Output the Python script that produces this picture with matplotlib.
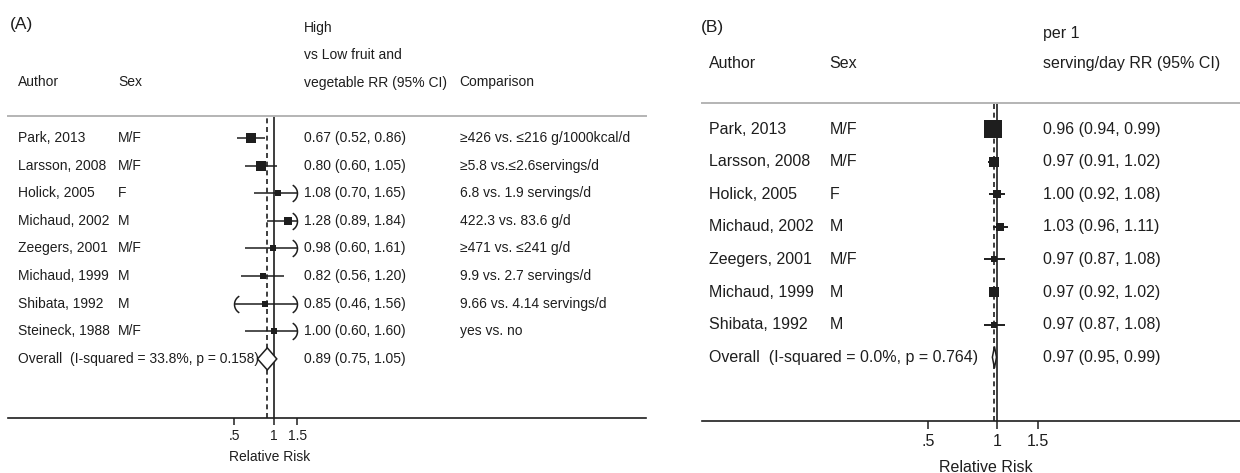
import numpy as np
import matplotlib
matplotlib.use("Agg")
import matplotlib.pyplot as plt
import matplotlib.transforms as mtrans
from matplotlib.path import Path
from matplotlib.ticker import NullLocator

plt.rcParams['font.family'] = ['Liberation Sans', 'DejaVu Sans']

# ---------------- data: panel A (high vs low) ----------------
authors_a = ["Park, 2013", "Larsson, 2008", "Holick, 2005", "Michaud, 2002",
             "Zeegers, 2001", "Michaud, 1999", "Shibata, 1992", "Steineck, 1988"]
sex_a = ["M/F", "M/F", "F", "M", "M/F", "M", "M", "M/F"]
rr_a = [0.67, 0.80, 1.08, 1.28, 0.98, 0.82, 0.85, 1.00]
lo_a = [0.52, 0.60, 0.70, 0.89, 0.60, 0.56, 0.46, 0.60]
hi_a = [0.86, 1.05, 1.65, 1.84, 1.61, 1.20, 1.56, 1.60]
weight_a = [21.5, 19.5, 9.5, 17.0, 7.0, 11.0, 6.0, 8.5]
comparison_a = ["\u2265426 vs. \u2264216 g/1000kcal/d",
                "\u22655.8 vs.\u22642.6servings/d",
                "6.8 vs. 1.9 servings/d",
                "422.3 vs. 83.6 g/d",
                "\u2265471 vs. \u2264241 g/d",
                "9.9 vs. 2.7 servings/d",
                "9.66 vs. 4.14 servings/d",
                "yes vs. no"]
overall_a = [0.89, 0.75, 1.05]
overall_label_a = "Overall  (I-squared = 33.8%, p = 0.158)"
header_rr_a = ["High", "vs Low fruit and", "vegetable RR (95% CI)"]

# ---------------- data: panel B (per 1 serving/day) ----------------
authors_b = ["Park, 2013", "Larsson, 2008", "Holick, 2005", "Michaud, 2002",
             "Zeegers, 2001", "Michaud, 1999", "Shibata, 1992"]
sex_b = ["M/F", "M/F", "F", "M", "M/F", "M", "M"]
rr_b = [0.96, 0.97, 1.00, 1.03, 0.97, 0.97, 0.97]
lo_b = [0.94, 0.91, 0.92, 0.96, 0.87, 0.92, 0.87]
hi_b = [0.99, 1.02, 1.08, 1.11, 1.08, 1.02, 1.08]
weight_b = [44.0, 14.9, 8.0, 8.0, 4.9, 16.4, 3.8]
overall_b = [0.97, 0.95, 0.99]
overall_label_b = "Overall  (I-squared = 0.0%, p = 0.764)"
header_rr_b = ["per 1", "serving/day RR (95% CI)"]

tick_values = [0.5, 1, 1.5]
tick_labels = [".5", "1", "1.5"]
axis_title = "Relative Risk"

INK = "#1e1e1e"
GRID = "#b4b4b4"

theta = np.linspace(-np.pi / 3, np.pi / 3, 17)
RIGHT_BR = Path(np.column_stack([np.cos(theta) - 1, np.sin(theta)]))
LEFT_BR = Path(np.column_stack([1 - np.cos(theta), np.sin(theta)]))

fig = plt.figure(figsize=(12.4, 4.73), dpi=100)


def forest(ax, rr, lo, hi, w, overall, k_px, dia_h, ci_lw, clip=None):
    n = len(rr)
    rows = np.arange(n)
    for i in rows:
        l, h = lo[i], hi[i]
        lc, hc = l, h
        if clip is not None:
            lc, hc = max(l, clip[0]), min(h, clip[1])
        ax.plot([lc, hc], [i, i], color=INK, lw=ci_lw, solid_capstyle='butt', zorder=3)
        if clip is not None and l < clip[0]:
            ax.plot([lc], [i], marker=LEFT_BR, ms=12, mfc='none', mec=INK, mew=1.1, zorder=3)
        if clip is not None and h > clip[1]:
            ax.plot([hc], [i], marker=RIGHT_BR, ms=12, mfc='none', mec=INK, mew=1.1, zorder=3)
        ms = k_px * np.sqrt(w[i]) * 0.72
        ax.plot([rr[i]], [i], marker='s', ms=ms, mfc=INK, mec=INK, mew=0, zorder=4)
    est, olo, ohi = overall
    yo = n
    ax.fill([olo, est, ohi, est, olo], [yo, yo - dia_h, yo, yo + dia_h, yo],
            facecolor='white', edgecolor=INK, lw=1.1, zorder=4)
    ax.axvline(1, color=INK, lw=1.2, zorder=2)
    ax.axvline(est, color=INK, lw=1.2, ls=(0, (3, 2.2)), zorder=2)


def style_axis(ax, xlim, ylim, fs, ticklen):
    ax.set_xscale('log')
    ax.set_xlim(*xlim)
    ax.set_ylim(*ylim)
    ax.set_xticks(tick_values)
    ax.set_xticklabels(tick_labels)
    ax.xaxis.set_minor_locator(NullLocator())
    ax.set_yticks([])
    for s in ['left', 'right']:
        ax.spines[s].set_visible(False)
    ax.spines['top'].set_color(GRID)
    ax.spines['top'].set_linewidth(1.4)
    ax.spines['bottom'].set_color(INK)
    ax.spines['bottom'].set_linewidth(1.2)
    ax.tick_params(axis='x', length=ticklen, width=1.1, color=INK,
                   labelsize=fs, labelcolor=INK, pad=3)
    ax.set_facecolor('none')


# ---------------- panel A ----------------
axA = fig.add_axes([8 / 1240, 1 - 418 / 473, 638 / 1240, 301.5 / 473])
style_axis(axA, (0.00964, 660), (10.14, -0.779), 10, 5)
forest(axA, rr_a, lo_a, hi_a, weight_a, overall_a, 2.05, 0.4, 1.1, clip=(0.5, 1.5))
tA = mtrans.blended_transform_factory(axA.transAxes, axA.transData)
fsA = 10
colA = {'author': 0.0157, 'sex': 0.173, 'rr': 0.464, 'cmp': 0.708}
for i in range(len(authors_a)):
    axA.text(colA['author'], i, authors_a[i], transform=tA, va='center', fontsize=fsA, color=INK)
    axA.text(colA['sex'], i, sex_a[i], transform=tA, va='center', fontsize=fsA, color=INK)
    axA.text(colA['rr'], i, f"{rr_a[i]:.2f} ({lo_a[i]:.2f}, {hi_a[i]:.2f})",
             transform=tA, va='center', fontsize=fsA, color=INK)
    axA.text(colA['cmp'], i, comparison_a[i], transform=tA, va='center', fontsize=fsA, color=INK)
nA = len(authors_a)
axA.text(colA['author'], nA, overall_label_a, transform=tA, va='center', fontsize=fsA, color=INK)
axA.text(colA['rr'], nA, f"{overall_a[0]:.2f} ({overall_a[1]:.2f}, {overall_a[2]:.2f})",
         transform=tA, va='center', fontsize=fsA, color=INK)
for j, h in enumerate(header_rr_a):
    axA.text(colA['rr'], -4 + j, h, transform=tA, va='center', fontsize=fsA, color=INK, clip_on=False)
axA.text(colA['author'], -2.03, "Author", transform=tA, va='center', fontsize=fsA, color=INK)
axA.text(colA['sex'], -2.03, "Sex", transform=tA, va='center', fontsize=fsA, color=INK)
axA.text(colA['cmp'], -2.03, "Comparison", transform=tA, va='center', fontsize=fsA, color=INK)
axA.text(0.003, -4.1, "(A)", transform=tA, va='center', fontsize=12.5, color=INK)
axA.text(0.41, -0.129, axis_title, transform=axA.transAxes, ha='center', va='center',
         fontsize=fsA, color=INK)

# ---------------- panel B ----------------
axB = fig.add_axes([702 / 1240, 1 - 421 / 473, 538 / 1240, 318 / 473])
style_axis(axB, (0.0516, 11.39), (8.957, -0.80), 11.5, 6)
forest(axB, rr_b, lo_b, hi_b, weight_b, overall_b, 2.71, 0.33, 1.4)
tB = mtrans.blended_transform_factory(axB.transAxes, axB.transData)
fsB = 11.5
colB = {'author': 0.013, 'sex': 0.237, 'rr': 0.634}
for i in range(len(authors_b)):
    axB.text(colB['author'], i, authors_b[i], transform=tB, va='center', fontsize=fsB, color=INK)
    axB.text(colB['sex'], i, sex_b[i], transform=tB, va='center', fontsize=fsB, color=INK)
    axB.text(colB['rr'], i, f"{rr_b[i]:.2f} ({lo_b[i]:.2f}, {hi_b[i]:.2f})",
             transform=tB, va='center', fontsize=fsB, color=INK)
nB = len(authors_b)
axB.text(colB['author'], nB, overall_label_b, transform=tB, va='center', fontsize=fsB, color=INK)
axB.text(colB['rr'], nB, f"{overall_b[0]:.2f} ({overall_b[1]:.2f}, {overall_b[2]:.2f})",
         transform=tB, va='center', fontsize=fsB, color=INK)
axB.text(colB['rr'], -2.94, header_rr_b[0], transform=tB, va='center', fontsize=fsB, color=INK)
axB.text(colB['rr'], -2.02, header_rr_b[1], transform=tB, va='center', fontsize=fsB, color=INK)
axB.text(colB['author'], -2.02, "Author", transform=tB, va='center', fontsize=fsB, color=INK)
axB.text(colB['sex'], -2.02, "Sex", transform=tB, va='center', fontsize=fsB, color=INK)
axB.text(-0.002, -3.13, "(B)", transform=tB, va='center', fontsize=12.5, color=INK)
axB.text(0.528, -0.145, axis_title, transform=axB.transAxes, ha='center', va='center',
         fontsize=fsB, color=INK)

fig.savefig("out.png", dpi=100, facecolor='white')
